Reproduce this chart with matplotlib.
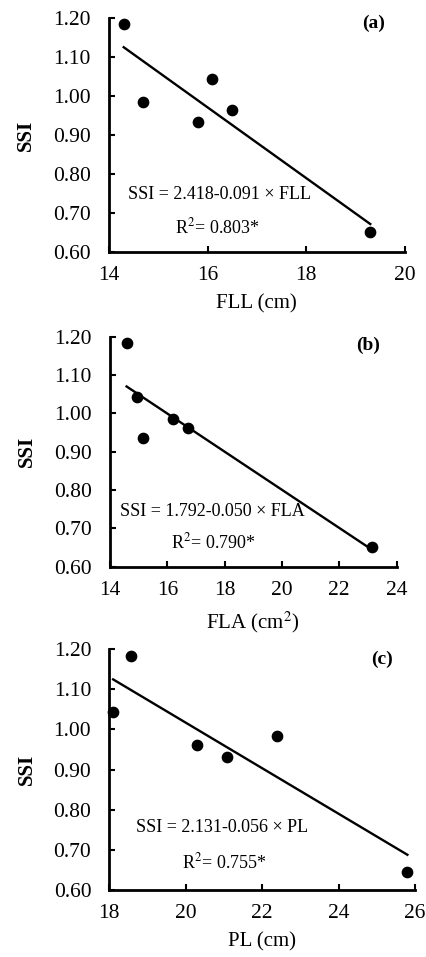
import numpy as np
import matplotlib
matplotlib.use('Agg')
import matplotlib.pyplot as plt

plt.rcParams['font.family'] = ['Liberation Serif', 'DejaVu Serif']
plt.rcParams['mathtext.fontset'] = 'stix'

# panel (a) - flag leaf length
fll = [14.3, 14.7, 15.8, 16.1, 16.5, 19.3]
ssi_a = [1.185, 0.985, 0.934, 1.044, 0.964, 0.650]

# panel (b) - flag leaf area
fla = [14.58, 14.93, 15.14, 16.21, 16.73, 23.16]
ssi_b = [1.185, 1.042, 0.935, 0.985, 0.963, 0.652]

# panel (c) - plant length
pl = [18.58, 18.10, 20.29, 21.09, 22.40, 25.80]
ssi_c = [1.183, 1.042, 0.961, 0.930, 0.983, 0.646]

y_ticks = [0.60, 0.70, 0.80, 0.90, 1.00, 1.10, 1.20]

panels = [
    dict(x=fll, y=ssi_a, rect=[0.255, 0.7367, 0.693, 0.2445], xlim=(14, 20), xticks=[14, 16, 18, 20],
         xlabel='FLL (cm)', eq='SSI = 2.418-0.091 × FLL', r2='R$^2$= 0.803*', tag='(a)',
         eq_pos=(16.25, 0.748), r2_pos=(16.2, 0.664), tag_pos=(19.36, 1.185)),
    dict(x=fla, y=ssi_b, rect=[0.2576, 0.4078, 0.671, 0.2403], xlim=(14, 24), xticks=[14, 16, 18, 20, 22, 24],
         xlabel='FLA (cm$^2$)', eq='SSI = 1.792-0.050 × FLA', r2='R$^2$= 0.790*', tag='(b)',
         eq_pos=(17.58, 0.745), r2_pos=(17.6, 0.663), tag_pos=(23.0, 1.178)),
    dict(x=pl, y=ssi_c, rect=[0.256, 0.070, 0.716, 0.2518], xlim=(18, 26), xticks=[18, 20, 22, 24, 26],
         xlabel='PL (cm)', eq='SSI = 2.131-0.056 × PL', r2='R$^2$= 0.755*', tag='(c)',
         eq_pos=(20.94, 0.755), r2_pos=(21.0, 0.668), tag_pos=(25.13, 1.175)),
]

fig = plt.figure(figsize=(4.27, 9.57), dpi=100)

for p in panels:
    ax = fig.add_axes(p['rect'])
    ax.scatter(p['x'], p['y'], s=55, color='black', zorder=3, clip_on=False)
    # trend line from least squares fit
    k, b = np.polyfit(p['x'], p['y'], 1)
    xs = np.array([min(p['x']), max(p['x'])])
    ax.plot(xs, k * xs + b, color='black', lw=1.7)
    ax.set_xlim(*p['xlim'])
    ax.set_ylim(0.6, 1.2)
    ax.set_xticks(p['xticks'])
    ax.set_yticks(y_ticks)
    ax.set_yticklabels(['%.2f' % v for v in y_ticks])
    ax.spines['top'].set_visible(False)
    ax.spines['right'].set_visible(False)
    ax.spines['left'].set_linewidth(2)
    ax.spines['bottom'].set_linewidth(2)
    ax.tick_params(direction='in', length=4, width=1.5, labelsize=15.5)
    ax.tick_params(axis='x', pad=10)
    ax.tick_params(axis='y', pad=13)
    ax.set_ylabel('SSI', fontsize=15, fontweight='bold', labelpad=12)
    ax.set_xlabel(p['xlabel'], fontsize=15, labelpad=7)
    ax.text(*p['eq_pos'], p['eq'], fontsize=13, ha='center', va='center')
    ax.text(*p['r2_pos'], p['r2'], fontsize=13, ha='center', va='center')
    ax.text(*p['tag_pos'], p['tag'], fontsize=14, fontweight='bold', ha='center', va='center')

fig.savefig('out.png', dpi=100)
